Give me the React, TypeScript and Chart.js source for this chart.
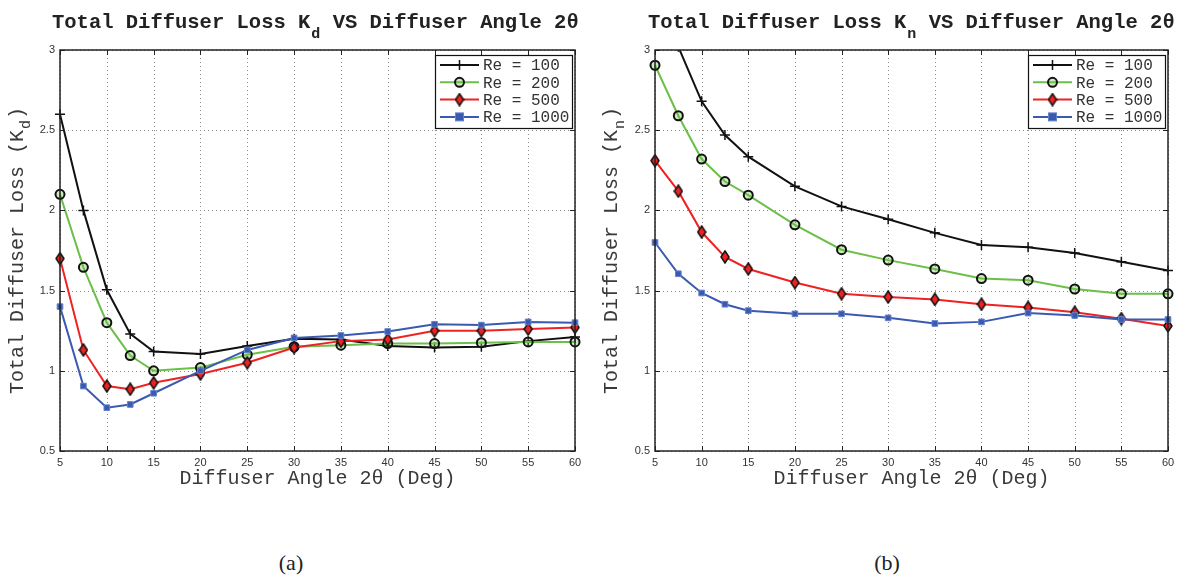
import React, { useEffect, useRef } from "react";
import { Chart, registerables } from "chart.js";

Chart.register(...registerables);

// ---------- data ----------
const angles = [5, 7.5, 10, 12.5, 15, 20, 25, 30, 35, 40, 45, 50, 55, 60];
const seriesLabels = ["Re = 100", "Re = 200", "Re = 500", "Re = 1000"];

const kdRe100 = [2.6, 2.0, 1.505, 1.23, 1.12, 1.105, 1.155, 1.2, 1.195, 1.155, 1.145, 1.15, 1.185, 1.21];
const kdRe200 = [2.1, 1.645, 1.3, 1.095, 1.0, 1.02, 1.1, 1.15, 1.16, 1.17, 1.17, 1.175, 1.18, 1.18];
const kdRe500 = [1.7, 1.13, 0.905, 0.885, 0.925, 0.98, 1.05, 1.145, 1.185, 1.195, 1.25, 1.25, 1.26, 1.27];
const kdRe1000 = [1.4, 0.905, 0.77, 0.79, 0.86, 1.0, 1.13, 1.205, 1.22, 1.245, 1.29, 1.285, 1.305, 1.3];

const knRe100 = [3.55, 3.02, 2.68, 2.47, 2.335, 2.15, 2.025, 1.945, 1.86, 1.785, 1.77, 1.735, 1.68, 1.625];
const knRe200 = [2.905, 2.59, 2.32, 2.18, 2.095, 1.91, 1.755, 1.69, 1.635, 1.575, 1.565, 1.51, 1.48, 1.48];
const knRe500 = [2.31, 2.12, 1.865, 1.71, 1.635, 1.55, 1.48, 1.46, 1.445, 1.415, 1.395, 1.365, 1.325, 1.28];
const knRe1000 = [1.8, 1.605, 1.485, 1.415, 1.375, 1.355, 1.355, 1.33, 1.295, 1.305, 1.36, 1.345, 1.32, 1.32];

const xTicks = [5, 10, 15, 20, 25, 30, 35, 40, 45, 50, 55, 60];
const yTicks = [0.5, 1, 1.5, 2, 2.5, 3];

// ---------- styles ----------
const CANVAS_W = 591;
const CANVAS_H = 500;
const PLOT_TOP = 50;
const PLOT_BOTTOM = 451;
const X_AXIS_H = 30;

const COLORS = ["#111111", "#6cbf48", "#ee2222", "#3a5ab0"];
const MONO = "'Liberation Mono', 'DejaVu Sans Mono', monospace";
const SANS = "'Liberation Sans', Arial, sans-serif";

function makeDiamond(): HTMLCanvasElement {
  const c = document.createElement("canvas");
  c.width = 10;
  c.height = 14;
  const g = c.getContext("2d")!;
  g.beginPath();
  g.moveTo(5, 1);
  g.lineTo(9, 7);
  g.lineTo(5, 13);
  g.lineTo(1, 7);
  g.closePath();
  g.fillStyle = COLORS[2];
  g.fill();
  g.lineWidth = 1.5;
  g.strokeStyle = "#111";
  g.stroke();
  return c;
}

function datasetStyle(i: number, diamond: HTMLCanvasElement) {
  const base: any = {
    borderColor: COLORS[i],
    backgroundColor: COLORS[i],
    borderWidth: 2,
    tension: 0,
    order: 3 - i,
    clip: { left: 10, right: 10, top: 0, bottom: 10 },
  };
  if (i === 0) {
    return { ...base, pointStyle: "cross", pointRadius: 5, pointBorderColor: "#111", pointBorderWidth: 1.5 };
  }
  if (i === 1) {
    return { ...base, pointStyle: "circle", pointRadius: 4.5, pointBorderColor: "#111", pointBorderWidth: 2, pointBackgroundColor: "rgba(108,191,72,0.35)" };
  }
  if (i === 2) {
    return { ...base, pointStyle: diamond, pointRadius: 5 };
  }
  return { ...base, pointStyle: "rect", pointRadius: 4, pointBorderColor: "#6582cc", pointBorderWidth: 1, pointBackgroundColor: COLORS[3] };
}

function drawMarker(g: CanvasRenderingContext2D, i: number, x: number, y: number, diamond: HTMLCanvasElement) {
  g.save();
  if (i === 0) {
    g.strokeStyle = "#111";
    g.lineWidth = 1.5;
    g.beginPath();
    g.moveTo(x - 5, y);
    g.lineTo(x + 5, y);
    g.moveTo(x, y - 5);
    g.lineTo(x, y + 5);
    g.stroke();
  } else if (i === 1) {
    g.beginPath();
    g.arc(x, y, 4.5, 0, Math.PI * 2);
    g.fillStyle = "rgba(108,191,72,0.35)";
    g.fill();
    g.strokeStyle = "#111";
    g.lineWidth = 2;
    g.stroke();
  } else if (i === 2) {
    g.drawImage(diamond, x - 5, y - 7);
  } else {
    g.fillStyle = COLORS[3];
    g.fillRect(x - 4, y - 4, 8, 8);
    g.strokeStyle = "#6582cc";
    g.lineWidth = 1;
    g.strokeRect(x - 4, y - 4, 8, 8);
  }
  g.restore();
}

type PanelProps = {
  series: number[][];
  sub: string;
  areaLeft: number;
  areaRight: number;
  titleX: number;
  yLabelX: number;
};

function Panel({ series, sub, areaLeft, areaRight, titleX, yLabelX }: PanelProps) {
  const ref = useRef<HTMLCanvasElement>(null);

  useEffect(() => {
    const canvas = ref.current!;
    const diamond = makeDiamond();

    const frame = {
      id: "frame",
      beforeDatasetsDraw(chart: any) {
        const g: CanvasRenderingContext2D = chart.ctx;
        const a = chart.chartArea;
        const xs = chart.scales.x;
        const ys = chart.scales.y;
        g.save();
        g.strokeStyle = "#8a8a8a";
        g.lineWidth = 1;
        g.setLineDash([1, 3]);
        for (const v of xTicks) {
          const px = Math.round(xs.getPixelForValue(v)) + 0.5;
          g.beginPath();
          g.moveTo(px, a.top);
          g.lineTo(px, a.bottom);
          g.stroke();
        }
        for (const v of yTicks) {
          const py = Math.round(ys.getPixelForValue(v)) + 0.5;
          g.beginPath();
          g.moveTo(a.left, py);
          g.lineTo(a.right, py);
          g.stroke();
        }
        g.restore();
      },
      afterDatasetsDraw(chart: any) {
        const g: CanvasRenderingContext2D = chart.ctx;
        const a = chart.chartArea;
        const xs = chart.scales.x;
        const ys = chart.scales.y;
        g.save();
        // inward ticks
        g.strokeStyle = "#222";
        g.lineWidth = 1;
        g.beginPath();
        for (const v of xTicks) {
          const px = Math.round(xs.getPixelForValue(v)) + 0.5;
          g.moveTo(px, a.bottom);
          g.lineTo(px, a.bottom - 5);
          g.moveTo(px, a.top);
          g.lineTo(px, a.top + 5);
        }
        for (const v of yTicks) {
          const py = Math.round(ys.getPixelForValue(v)) + 0.5;
          g.moveTo(a.left, py);
          g.lineTo(a.left + 5, py);
          g.moveTo(a.right, py);
          g.lineTo(a.right - 5, py);
        }
        g.stroke();
        // box
        g.lineWidth = 1.5;
        g.strokeStyle = "#222";
        g.strokeRect(a.left, a.top, a.right - a.left, a.bottom - a.top);

        // legend
        const lx = a.right - 140;
        const ly = a.top + 5;
        const lw = 137;
        const lh = 73;
        g.fillStyle = "#ffffff";
        g.fillRect(lx, ly, lw, lh);
        g.lineWidth = 1.2;
        g.strokeStyle = "#111";
        g.strokeRect(lx + 0.5, ly + 0.5, lw, lh);
        g.font = `16px ${MONO}`;
        g.textBaseline = "middle";
        g.textAlign = "left";
        for (let i = 0; i < 4; i++) {
          const ry = ly + 10 + i * 17.3;
          g.strokeStyle = COLORS[i];
          g.lineWidth = 2;
          g.beginPath();
          g.moveTo(lx + 5, ry);
          g.lineTo(lx + 44, ry);
          g.stroke();
          drawMarker(g, i, lx + 24.5, ry, diamond);
          g.fillStyle = "#333";
          g.fillText(seriesLabels[i], lx + 48, ry + 1);
        }

        // title
        g.fillStyle = "#222";
        g.textBaseline = "alphabetic";
        g.textAlign = "left";
        g.font = `bold 20.5px ${MONO}`;
        const t1 = "Total Diffuser Loss K";
        const t2 = " VS Diffuser Angle 2\u03b8";
        let x = titleX;
        g.fillText(t1, x, 28);
        x += g.measureText(t1).width;
        g.font = `bold 15px ${MONO}`;
        g.fillText(sub, x + 1, 38);
        x += 10;
        g.font = `bold 20.5px ${MONO}`;
        g.fillText(t2, x, 28);

        // x label
        g.font = `20px ${MONO}`;
        g.fillStyle = "#3a3a3a";
        g.textAlign = "center";
        g.fillText("Diffuser Angle 2\u03b8 (Deg)", (a.left + a.right) / 2, 484);

        // y label (rotated)
        g.save();
        g.translate(yLabelX, (a.top + a.bottom) / 2);
        g.rotate(-Math.PI / 2);
        g.textAlign = "left";
        g.textBaseline = "middle";
        const y1 = "Total Diffuser Loss (K";
        g.font = `20px ${MONO}`;
        const w1 = g.measureText(y1).width;
        g.font = `15px ${MONO}`;
        const wsub = g.measureText(sub).width;
        g.font = `20px ${MONO}`;
        const w3 = g.measureText(")").width;
        const total = w1 + wsub + 2 + w3;
        let yx = -total / 2;
        g.fillText(y1, yx, 0);
        yx += w1;
        g.font = `15px ${MONO}`;
        g.fillText(sub, yx + 1, 8);
        yx += wsub + 2;
        g.font = `20px ${MONO}`;
        g.fillText(")", yx, 0);
        g.restore();

        g.restore();
      },
    };

    const chart = new Chart(canvas, {
      type: "line",
      data: {
        datasets: series.map((s, i) => ({
          label: seriesLabels[i],
          data: angles.map((ang, j) => ({ x: ang, y: s[j] })),
          ...datasetStyle(i, diamond),
        })),
      },
      options: {
        animation: false,
        responsive: false,
        events: [],
        layout: {
          padding: {
            left: 0,
            right: CANVAS_W - areaRight,
            top: PLOT_TOP,
            bottom: CANVAS_H - PLOT_BOTTOM - X_AXIS_H,
          },
        },
        plugins: {
          legend: { display: false },
          tooltip: { enabled: false },
          title: { display: false },
        },
        scales: {
          x: {
            type: "linear",
            min: 5,
            max: 60,
            afterBuildTicks: (s: any) => {
              s.ticks = xTicks.map((v) => ({ value: v }));
            },
            afterFit: (s: any) => {
              s.height = X_AXIS_H;
            },
            grid: { display: false, drawTicks: false },
            border: { display: false },
            ticks: {
              padding: 5,
              autoSkip: false,
              maxRotation: 0,
              color: "#333",
              font: { family: SANS, size: 11 },
              callback: (v: any) => String(v),
            },
          },
          y: {
            type: "linear",
            min: 0.5,
            max: 3,
            afterBuildTicks: (s: any) => {
              s.ticks = yTicks.map((v) => ({ value: v }));
            },
            afterFit: (s: any) => {
              s.width = areaLeft;
            },
            grid: { display: false, drawTicks: false },
            border: { display: false },
            ticks: {
              padding: 5,
              autoSkip: false,
              color: "#333",
              font: { family: SANS, size: 11 },
              callback: (v: any) => String(v),
            },
          },
        },
      } as any,
      plugins: [frame],
    });

    return () => chart.destroy();
  }, []);

  return <canvas ref={ref} width={CANVAS_W} height={CANVAS_H} style={{ display: "block" }} />;
}

export default function App() {
  const caption: React.CSSProperties = {
    position: "absolute",
    top: 550,
    transform: "translateX(-50%)",
    fontFamily: "'Liberation Serif', 'DejaVu Serif', serif",
    fontSize: 22,
    color: "#222",
    whiteSpace: "nowrap",
  };
  return (
    <div style={{ position: "absolute", left: 0, top: 0, width: 1182, height: 579, background: "#fff", overflow: "hidden" }}>
      <div style={{ position: "absolute", left: 0, top: 0 }}>
        <Panel series={[kdRe100, kdRe200, kdRe500, kdRe1000]} sub="d" areaLeft={60} areaRight={575} titleX={52} yLabelX={18} />
      </div>
      <div style={{ position: "absolute", left: 591, top: 0 }}>
        <Panel series={[knRe100, knRe200, knRe500, knRe1000]} sub="n" areaLeft={64} areaRight={577} titleX={57} yLabelX={21} />
      </div>
      <span style={{ ...caption, left: 291 }}>(a)</span>
      <span style={{ ...caption, left: 887 }}>(b)</span>
    </div>
  );
}
